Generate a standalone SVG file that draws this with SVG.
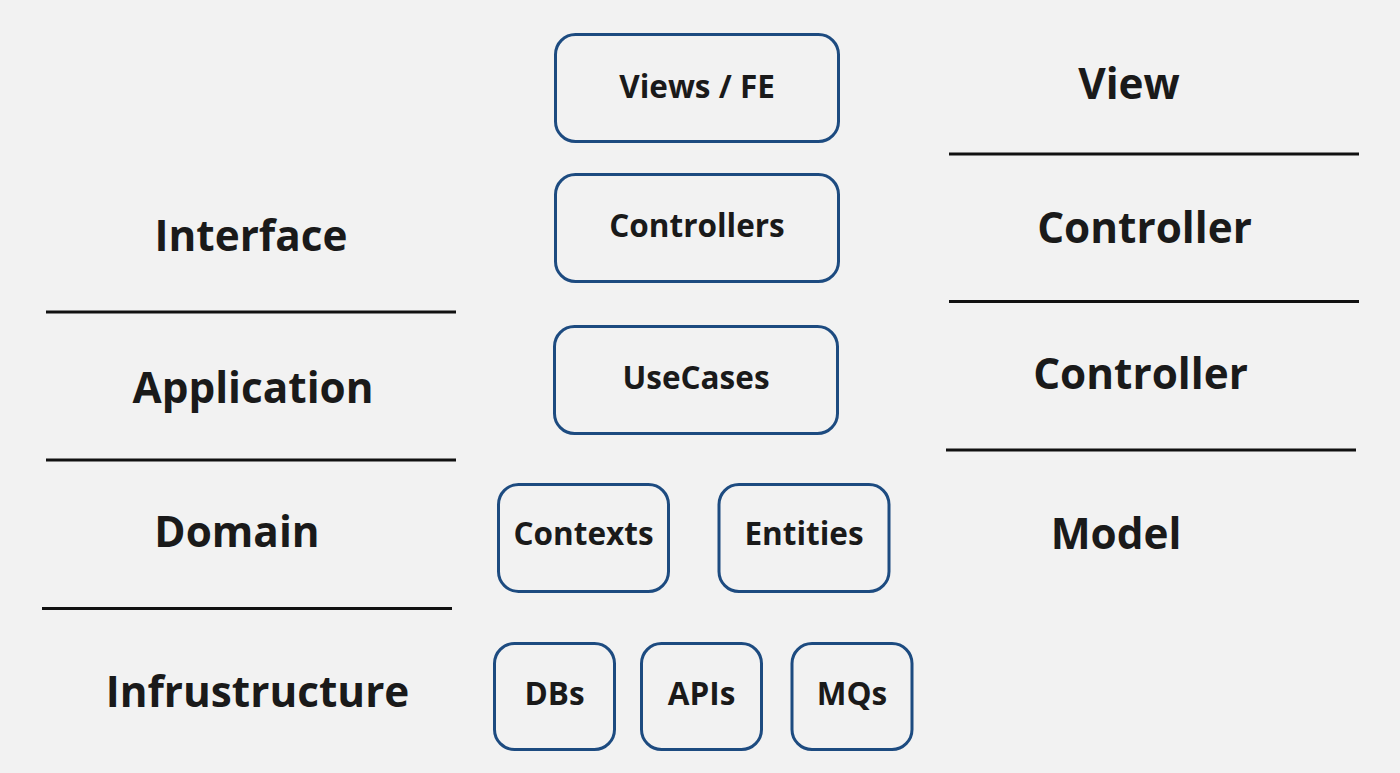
<svg xmlns="http://www.w3.org/2000/svg" width="1400" height="773" viewBox="0 0 1400 773">
<style>
.bg{fill:#f2f2f2}
.box{fill:#f2f2f2;stroke:#1d4b80;stroke-width:3}
.bt{font-family:"Open Sans","Noto Sans","Liberation Sans",sans-serif;font-weight:700;font-size:31.5px;fill:#1a1a1a;text-anchor:middle}
.lt{font-family:"Open Sans","Noto Sans","Liberation Sans",sans-serif;font-weight:700;font-size:42.3px;fill:#1a1a1a;text-anchor:middle}
.sep{stroke:#111;stroke-width:3}
</style>
<rect class="bg" x="0" y="0" width="1400" height="773"/>
<g id="labels-left">
<text class="lt" x="251" y="251">Interface</text>
<text class="lt" x="253" y="403">Application</text>
<text class="lt" x="237" y="547">Domain</text>
<text class="lt" x="257.5" y="707">Infrustructure</text>
</g>
<g id="labels-right">
<text class="lt" x="1129" y="99">View</text>
<text class="lt" x="1144.5" y="243">Controller</text>
<text class="lt" x="1140.5" y="389">Controller</text>
<text class="lt" x="1116" y="549">Model</text>
</g>
<g id="separators">
<line class="sep" x1="46" y1="312" x2="456" y2="312"/>
<line class="sep" x1="46" y1="460" x2="456" y2="460"/>
<line class="sep" x1="42" y1="608.5" x2="452" y2="608.5"/>
<line class="sep" x1="949" y1="154" x2="1359" y2="154"/>
<line class="sep" x1="949" y1="301.5" x2="1359" y2="301.5"/>
<line class="sep" x1="946" y1="450" x2="1356" y2="450"/>
</g>
<g id="connectors"></g>
<g id="views-fe"><rect class="box" x="555.5" y="34.5" width="283" height="107" rx="20"/><text class="bt" x="697" y="98">Views / FE</text></g>
<g id="controllers"><rect class="box" x="555.5" y="174.5" width="283" height="107" rx="20"/><text class="bt" x="697" y="237">Controllers</text></g>
<g id="usecases"><rect class="box" x="554.5" y="326.5" width="283" height="107" rx="20"/><text class="bt" x="696" y="389">UseCases</text></g>
<g id="contexts"><rect class="box" x="498.5" y="484.5" width="170" height="107" rx="20"/><text class="bt" x="583.5" y="545">Contexts</text></g>
<g id="entities"><rect class="box" x="719" y="484.5" width="170" height="107" rx="20"/><text class="bt" x="804" y="545">Entities</text></g>
<g id="dbs"><rect class="box" x="494.5" y="643.5" width="120" height="106" rx="20"/><text class="bt" x="554.5" y="705">DBs</text></g>
<g id="apis"><rect class="box" x="641.5" y="643.5" width="120" height="106" rx="20"/><text class="bt" x="701.5" y="705">APIs</text></g>
<g id="mqs"><rect class="box" x="792" y="643.5" width="120" height="106" rx="20"/><text class="bt" x="852" y="705">MQs</text></g>
</svg>
